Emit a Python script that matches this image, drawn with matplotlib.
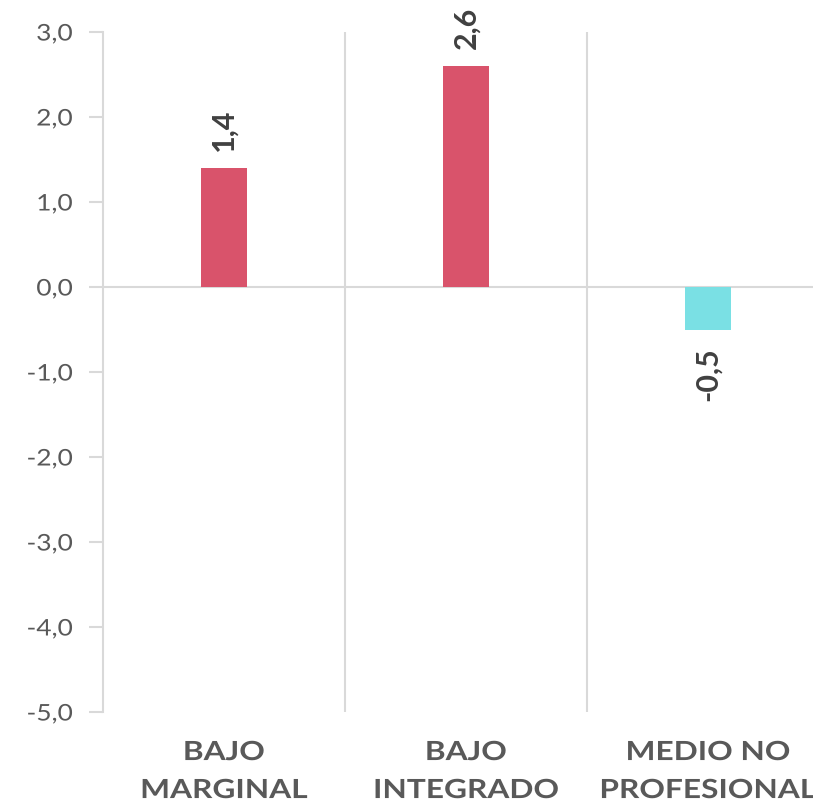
import matplotlib.pyplot as plt
from matplotlib.patheffects import AbstractPathEffect
from matplotlib.transforms import Affine2D

CATEGORIES = ["BAJO\nMARGINAL", "BAJO\nINTEGRADO", "MEDIO NO\nPROFESIONAL"]
VALUES = [1.4, 2.6, -0.5]
VALUE_LABELS = ["1,4", "2,6", "-0,5"]
Y_TICKS = [3, 2, 1, 0, -1, -2, -3, -4, -5]

POS_COLOR = "#D9536B"
NEG_COLOR = "#7AE0E4"
GRID = "#D9D9D9"


class Widen(AbstractPathEffect):
    """Stretch text horizontally (mimics the wide letter spacing of the original)."""

    def __init__(self, sx, anchor="center"):
        super().__init__()
        self.sx = sx
        self.anchor = anchor

    def draw_path(self, renderer, gc, tpath, affine, rgbFace=None):
        ext = tpath.get_extents(affine)
        cx = ext.x1 if self.anchor == "right" else (ext.x0 + ext.x1) / 2
        stretch = Affine2D().translate(-cx, 0).scale(self.sx, 1).translate(cx, 0)
        renderer.draw_path(gc, tpath, affine + stretch, rgbFace)


def main():
    plt.rcParams["font.family"] = ["Lato", "DejaVu Sans"]
    fig = plt.figure(figsize=(8.13, 8.04), dpi=100)
    ax = fig.add_axes([103 / 813, 1 - 713 / 804, 1 - 103 / 813, (713 - 33) / 804])

    xs = list(range(len(VALUES)))
    colors = [POS_COLOR if v >= 0 else NEG_COLOR for v in VALUES]
    ax.bar(xs, VALUES, width=0.186, color=colors, zorder=3)

    ax.set_xlim(-0.5, 2.5 - 16 / 242)
    ax.set_ylim(-5, 3)

    # category separators and zero line
    for xb in [0.5, 1.5]:
        ax.axvline(xb, color=GRID, lw=1.5, zorder=1)
    ax.axhline(0, color=GRID, lw=1.5, zorder=2)

    for s in ["top", "right", "bottom"]:
        ax.spines[s].set_visible(False)
    ax.spines["left"].set_color(GRID)
    ax.spines["left"].set_linewidth(1.5)

    ax.set_yticks(Y_TICKS)
    ax.set_yticklabels([f"{t:.1f}".replace(".", ",") for t in Y_TICKS])
    ax.tick_params(axis="y", length=10, width=1.5, color=GRID, labelsize=16.5,
                   labelcolor="#595959", pad=12)
    for lab in ax.get_yticklabels():
        lab.set_path_effects([Widen(1.15, anchor="right")])
    ax.set_xticks([])

    for x, v, lab in zip(xs, VALUES, VALUE_LABELS):
        off = 18 if v >= 0 else -17
        ax.annotate(lab, (x, v), xytext=(0, off), textcoords="offset pixels",
                    rotation=90, ha="center", va="bottom" if v >= 0 else "top",
                    fontsize=22, fontweight="bold", color="#404040")

    for x, cat in zip(xs, CATEGORIES):
        t = ax.text(x, -5.33, cat, ha="center", va="top", fontsize=19,
                    fontweight="bold", color="#595959", linespacing=1.7,
                    clip_on=False)
        t.set_path_effects([Widen(1.2)])

    fig.savefig("out.png", dpi=100)
    plt.close(fig)


if __name__ == "__main__":
    main()
